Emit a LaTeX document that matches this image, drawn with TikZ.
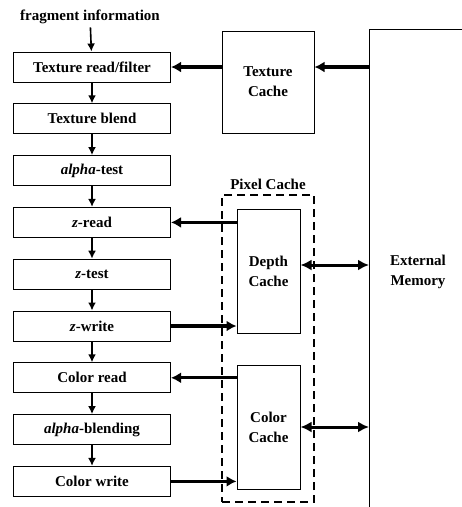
\documentclass[tikz,border=0pt]{standalone}
\usepackage{fontspec}
\setmainfont{Liberation Serif}
\usetikzlibrary{arrows.meta}

\tikzset{
  stage/.style={draw,line width=1pt,minimum width=157pt,minimum height=30pt,inner sep=0pt},
  cachebox/.style={draw,line width=1pt,align=center,inner sep=0pt},
  flow/.style={line width=1.6pt,-{Latex[length=8pt,width=8pt]}},
  bus/.style={line width=3.2pt,-{Latex[length=10pt,width=11pt]}},
  membus/.style={line width=3pt,{Latex[length=11pt,width=11pt]}-{Latex[length=11pt,width=11pt]}}
}

\begin{document}
\begin{tikzpicture}[x=1pt,y=-1pt,font=\fontsize{15}{20}\selectfont\bfseries]
  \useasboundingbox (0,0) rectangle (462,507);

  \node (frag) at (90,17) {fragment information};
  \node[stage] (trf) at (92,67) {Texture read/filter};
  \node[stage] (tb) at (92,118.8) {Texture blend};
  \node[stage] (at) at (92,170.6) {\textit{alpha}-test};
  \node[stage] (zr) at (92,222.4) {\textit{z}-read};
  \node[stage] (zt) at (92,274.2) {\textit{z}-test};
  \node[stage] (zw) at (92,326) {\textit{z}-write};
  \node[stage] (cr) at (92,377.8) {Color read};
  \node[stage] (ab) at (92,429.6) {\textit{alpha}-blending};
  \node[stage] (cw) at (92,481.4) {Color write};

  \node[cachebox,minimum width=92pt,minimum height=102pt] (tc) at (268,82) {Texture\\Cache};
  \node[draw,line width=2.6pt,dash pattern=on 8pt off 5pt,minimum width=92pt,minimum height=307pt] (pc) at (268,348.5) {};
  \node[above=1pt] (pclabel) at (pc.north) {Pixel Cache};
  \node[cachebox,minimum width=63pt,minimum height=124pt] (dc) at (268.5,271) {Depth\\Cache};
  \node[cachebox,minimum width=63pt,minimum height=124pt] (cc) at (268.5,427) {Color\\Cache};

  \coordinate (mem) at (369,29);
  \draw[line width=1pt] (462,29) -- (mem) -- (369,507);
  \node[align=center] (memlabel) at (418,272) {External\\Memory};

  \draw[flow] (frag) -- (trf);
  \foreach \a/\b in {trf/tb,tb/at,at/zr,zr/zt,zt/zw,zw/cr,cr/ab,ab/cw}
    \draw[flow] (\a) -- (\b);

  \draw[bus] (tc.west |- trf.east) -- (trf.east);
  \draw[bus] (mem |- trf.east) -- (tc.east |- trf.east);
  \draw[bus] (dc.west |- zr.east) -- (zr.east);
  \draw[bus] (zw.east) -- (zw.east -| dc.west);
  \draw[bus] (cc.west |- cr.east) -- (cr.east);
  \draw[bus] (cw.east) -- (cw.east -| cc.west);

  \draw[membus] ([yshift=6pt]dc.east) -- ([yshift=6pt]dc.east -| mem);
  \draw[membus] (cc.east) -- (cc.east -| mem);
\end{tikzpicture}
\end{document}
